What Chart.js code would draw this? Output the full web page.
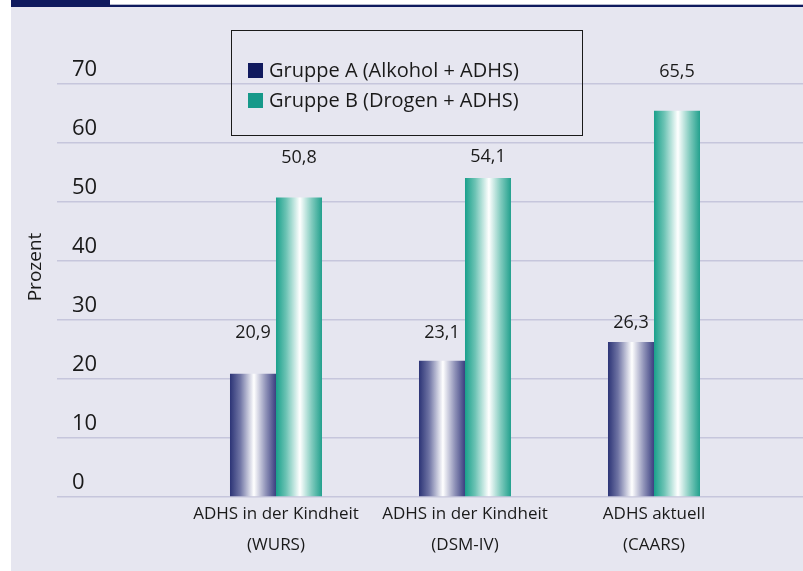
<!DOCTYPE html>
<html><head><meta charset="utf-8">
<script src="https://cdn.jsdelivr.net/npm/chart.js@4/dist/chart.umd.min.js"></script>
<style>
html,body{margin:0;padding:0;background:#fff;width:803px;height:571px;overflow:hidden;font-family:'Open Sans',sans-serif;}
#hdrBlock{position:absolute;left:11px;top:0;width:99px;height:7px;background:#0f1a5e;}
#hdrGrey{position:absolute;left:110px;top:4px;width:693px;height:1px;background:#b4b8cc;}
#hdrLine{position:absolute;left:11px;top:5px;width:792px;height:2px;background:#0f1a5e;}
#panel{position:absolute;left:11px;top:7px;width:792px;height:564px;background:#e6e6f0;}
#chart{position:absolute;left:0;top:0;}
#legend{position:absolute;left:220px;top:23px;width:352px;height:106px;border:1.5px solid #1a1a1a;box-sizing:border-box;}
.item{position:absolute;left:16px;height:24px;line-height:24px;font-size:20px;color:#1a1a1a;white-space:nowrap;}
.sw{position:absolute;left:0;top:5px;width:15px;height:15px;}
.tx{position:absolute;left:21px;top:0;}
</style>
</head>
<body>
<div id="hdrBlock"></div><div id="hdrGrey"></div><div id="hdrLine"></div>
<div id="panel">
<canvas id="chart" width="792" height="564"></canvas>
<div id="legend"></div>
</div>
<script>
const categories = [["ADHS in der Kindheit","(WURS)"],["ADHS in der Kindheit","(DSM-IV)"],["ADHS aktuell","(CAARS)"]];
const categoryPositions = [1, 2, 3];
const seriesNames = ["Gruppe A (Alkohol + ADHS)", "Gruppe B (Drogen + ADHS)"];
const groupA = [20.9, 23.1, 26.3];
const groupB = [50.8, 54.1, 65.5];
const yTicks = [0, 10, 20, 30, 40, 50, 60, 70];
const yAxisTitle = "Prozent";

const FONT = "'Open Sans', sans-serif";
const solidColors = ["#111a5e", "#16998a"];
const gradStops = [
  [[0,"#2c3476"],[0.22,"#6f74a4"],[0.52,"#ffffff"],[0.78,"#8f92b8"],[1,"#3a3f80"]],
  [[0,"#19a08b"],[0.22,"#6cc3b4"],[0.52,"#ffffff"],[0.78,"#7fcabd"],[1,"#22a08d"]]
];
const CAT_PCT = 0.4868;
// style: pixel gap between bar top and its value label (per series, per category)
const labelGap = [[41, 28, 19], [40, 21, 39]];

function barFill(di) {
  return (c) => {
    const chart = c.chart, xs = chart.scales.x;
    if (c.type !== 'data' || !xs || !chart.chartArea) return solidColors[di];
    const center = xs.getPixelForValue(c.raw.x);
    const spacing = xs.getPixelForValue(2) - xs.getPixelForValue(1);
    if (!isFinite(center) || !isFinite(spacing) || spacing <= 0) return solidColors[di];
    const groupW = spacing * CAT_PCT;
    const barW = groupW / 2;
    const l = center - groupW / 2 + di * barW;
    const g = chart.ctx.createLinearGradient(l, 0, l + barW, 0);
    gradStops[di].forEach(([o, col]) => g.addColorStop(o, col));
    return g;
  };
}

const valueLabels = {
  id: 'valueLabels',
  afterDatasetsDraw(chart) {
    const ctx = chart.ctx;
    ctx.save();
    ctx.font = "18px " + FONT;
    ctx.fillStyle = "#1a1a1a";
    ctx.textAlign = "center";
    ctx.textBaseline = "middle";
    chart.data.datasets.forEach((ds, di) => {
      chart.getDatasetMeta(di).data.forEach((el, i) => {
        const v = ds.data[i].y;
        ctx.fillText(v.toFixed(1).replace('.', ','), el.x, el.y - labelGap[di][i]);
      });
    });
    ctx.restore();
  }
};

const datasets = [groupA, groupB].map((arr, di) => ({
  label: seriesNames[di],
  data: categoryPositions.map((x, i) => ({ x: x, y: arr[i] })),
  backgroundColor: barFill(di),
  borderWidth: 0,
  categoryPercentage: CAT_PCT,
  barPercentage: 1
}));

new Chart(document.getElementById('chart'), {
  type: 'bar',
  data: { datasets: datasets },
  plugins: [valueLabels],
  options: {
    responsive: false,
    animation: false,
    devicePixelRatio: 1,
    layout: { padding: { top: 30, left: 0, right: 0, bottom: 0 } },
    plugins: { legend: { display: false }, tooltip: { enabled: false } },
    scales: {
      x: {
        type: 'linear', min: -0.1587, max: 3.7884, offset: false,
        afterBuildTicks: s => { s.ticks = categoryPositions.map(v => ({ value: v })); },
        afterFit: s => { s.height = 74; },
        grid: { display: false, drawTicks: false },
        border: { display: false },
        ticks: {
          callback: v => categories[categoryPositions.indexOf(v)],
          font: { family: FONT, size: 17, lineHeight: 1.8 },
          color: '#1a1a1a', padding: 2, maxRotation: 0, autoSkip: false
        }
      },
      y: {
        min: 0, max: 78,
        afterBuildTicks: s => { s.ticks = yTicks.map(v => ({ value: v })); },
        afterFit: s => { s.width = 46; },
        grid: { color: '#c6c6dc', lineWidth: 1.5, drawTicks: false },
        border: { display: false },
        ticks: { mirror: true, padding: 15, labelOffset: -14, font: { family: FONT, size: 22 }, color: '#1a1a1a' },
        title: { display: true, text: yAxisTitle, font: { family: FONT, size: 19 }, color: '#1a1a1a', padding: { top: 13.6, bottom: 0 } }
      }
    }
  }
});

const legendEl = document.getElementById('legend');
seriesNames.forEach((name, i) => {
  const it = document.createElement('div');
  it.className = 'item';
  it.style.top = (39 - 12 + i * 30) + 'px';
  it.innerHTML = '<span class="sw" style="background:' + solidColors[i] + '"></span><span class="tx"></span>';
  it.querySelector('.tx').textContent = name;
  legendEl.appendChild(it);
});
</script>
</body></html>
